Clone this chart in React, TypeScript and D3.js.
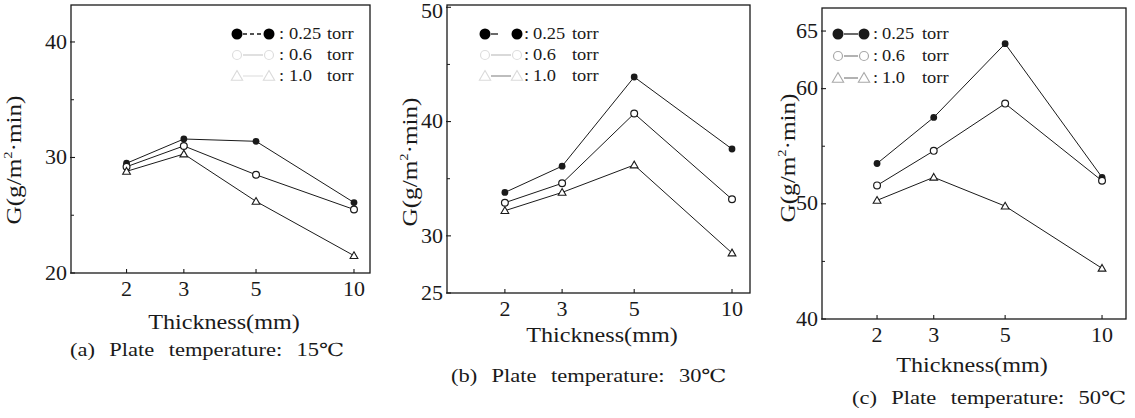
import React from "react";
import * as d3 from "d3";

// ---------- data ----------
const thickness = [2, 3, 5, 10];
const xTickValues = [2, 3, 5, 10];
const pressureLabels = ["0.25", "0.6", "1.0"];

const a025 = [29.5, 31.6, 31.4, 26.1];
const a06 = [29.2, 31.0, 28.5, 25.5];
const a10 = [28.8, 30.3, 26.2, 21.5];

const b025 = [33.8, 36.1, 43.9, 37.6];
const b06 = [32.9, 34.6, 40.7, 33.2];
const b10 = [32.2, 33.8, 36.2, 28.5];

const c025 = [53.5, 57.5, 63.9, 52.3];
const c06 = [51.6, 54.6, 58.7, 52.0];
const c10 = [50.3, 52.3, 49.8, 44.4];

const aTicks = [20, 30, 40];
const aMinor = [25, 35];
const bTicks = [25, 30, 40, 50];
const bMinor = [35, 45];
const cTicks = [40, 50, 60, 65];
const cMinor = [45, 55];

const captions = [
  "(a) Plate temperature: 15℃",
  "(b) Plate temperature: 30℃",
  "(c) Plate temperature: 50℃",
];
const xTitle = "Thickness(mm)";

const FONT = "Liberation Serif, Times New Roman, DejaVu Serif, serif";
const INK = "#1a1a1a";

type Layout = {
  left: number; right: number; top: number; bottom: number;
  yDom: [number, number]; xDom: [number, number];
  yLabelX: number; yLabelY: number;
  tickLabelY: number; titleX: number; titleY: number;
  capX: number; capY: number;
  leg: { m1: number; m2: number; colon: number; num: number; torr: number; rows: number[] };
  legStyle: "a" | "b" | "c";
};

const layouts: Layout[] = [
  {
    left: 71, right: 370, top: 5, bottom: 273, yDom: [20, 43.2], xDom: [1.35, 11.2],
    yLabelX: 14, yLabelY: 160, tickLabelY: 289, titleX: 224, titleY: 322,
    capX: 70, capY: 350,
    leg: { m1: 237, m2: 269, colon: 279, num: 289, torr: 327, rows: [34, 55, 76] },
    legStyle: "a",
  },
  {
    left: 447, right: 750, top: 5, bottom: 293, yDom: [25, 50.2], xDom: [1.327, 11.36],
    yLabelX: 410, yLabelY: 162, tickLabelY: 309, titleX: 602, titleY: 335,
    capX: 451, capY: 376,
    leg: { m1: 485, m2: 517, colon: 524, num: 533, torr: 572, rows: [34, 55, 76] },
    legStyle: "b",
  },
  {
    left: 822, right: 1126, top: 8, bottom: 319, yDom: [40, 67], xDom: [1.349, 11.87],
    yLabelX: 788, yLabelY: 158, tickLabelY: 335, titleX: 972, titleY: 365,
    capX: 852, capY: 398,
    leg: { m1: 838, m2: 864, colon: 873, num: 882, torr: 922, rows: [34, 56, 78] },
    legStyle: "c",
  },
];

const panelSeries = [
  [a025, a06, a10],
  [b025, b06, b10],
  [c025, c06, c10],
];
const panelTicks = [aTicks, bTicks, cTicks];
const panelMinor = [aMinor, bMinor, cMinor];

function T(props: {
  x: number; y: number; sx?: number; size: number; anchor?: string; rotate?: number;
  fill?: string; wordSpacing?: number; children: React.ReactNode;
}) {
  const { x, y, sx = 1, size, anchor = "start", rotate = 0, fill = INK, wordSpacing, children } = props;
  return (
    <text
      transform={`translate(${x},${y}) rotate(${rotate}) scale(${sx},1)`}
      textAnchor={anchor as any}
      dominantBaseline="central"
      style={{ fontFamily: FONT, fontSize: size, fontWeight: 400, wordSpacing: wordSpacing }}
      fill={fill}
    >
      {children}
    </text>
  );
}

const triPath = (size: number) => d3.symbol().type(d3.symbolTriangle).size(size)() as string;

function Marker({ kind, cx, cy, big, color = INK }: { kind: number; cx: number; cy: number; big?: boolean; color?: string }) {
  if (kind === 0) return <circle cx={cx} cy={cy} r={big ? 5.5 : 3.4} fill={color} />;
  if (kind === 1)
    return <circle cx={cx} cy={cy} r={big ? 4.5 : 3.4} fill="#fff" stroke={color} strokeWidth={1.2} />;
  return (
    <path d={triPath(big ? 55 : 26)} transform={`translate(${cx},${cy + (big ? 1 : 0.6)})`} fill="#fff" stroke={color} strokeWidth={1.1} />
  );
}

function Panel({ idx }: { idx: number }) {
  const L = layouts[idx];
  const series = panelSeries[idx];
  const x = d3.scaleLog().domain(L.xDom).range([L.left, L.right]);
  const y = d3.scaleLinear().domain(L.yDom).range([L.bottom, L.top]);
  const line = d3
    .line<number>()
    .x((_, i) => x(thickness[i]))
    .y((d) => y(d));

  const legColors =
    L.legStyle === "c"
      ? [INK, "#a8a8a8", "#a8a8a8"]
      : ["#000", "#dedede", "#dadada"];
  const legLineColors =
    L.legStyle === "c" ? [INK, "#888", "#888"] : L.legStyle === "b" ? [INK, "#c4c4c4", "#999"] : [INK, "#cfcfcf", "#e4e4e4"];

  return (
    <g>
      <rect x={L.left} y={L.top} width={L.right - L.left} height={L.bottom - L.top} fill="none" stroke={INK} strokeWidth={1.3} />
      {panelTicks[idx].map((t) => (
        <g key={"yt" + t}>
          <line x1={L.left - 1} x2={L.left + 4} y1={y(t)} y2={y(t)} stroke={INK} strokeWidth={1.1} />
          <T x={L.left - 4} y={Math.max(y(t), 11)} size={20} sx={1.1} anchor="end">{t}</T>
        </g>
      ))}
      {panelMinor[idx].map((t) => (
        <line key={"ym" + t} x1={L.left} x2={L.left + 3} y1={y(t)} y2={y(t)} stroke={INK} strokeWidth={1} />
      ))}
      {xTickValues.map((t) => (
        <g key={"xt" + t}>
          <line x1={x(t)} x2={x(t)} y1={L.bottom} y2={L.bottom - 4} stroke={INK} strokeWidth={1.1} />
          <T x={x(t)} y={L.tickLabelY} size={20} sx={1.1} anchor="middle">{t}</T>
        </g>
      ))}
      {series.map((s, si) => (
        <g key={"s" + si}>
          <path d={line(s) as string} fill="none" stroke={INK} strokeWidth={1} />
          {s.map((v, i) => (
            <Marker key={i} kind={si} cx={x(thickness[i])} cy={y(v)} />
          ))}
        </g>
      ))}
      {pressureLabels.map((p, ri) => {
        const ry = L.leg.rows[ri];
        const dashed = L.legStyle === "a" && ri === 0;
        return (
          <g key={"lg" + ri}>
            <line
              x1={L.leg.m1 + 6}
              x2={L.leg.m2 - 6}
              y1={ry}
              y2={ry}
              stroke={legLineColors[ri]}
              strokeWidth={1.3}
              strokeDasharray={dashed ? "4,3" : L.legStyle === "b" && ri === 0 ? "7,20" : undefined}
            />
            <Marker kind={ri} cx={L.leg.m1} cy={ry} big color={legColors[ri]} />
            <Marker kind={ri} cx={L.leg.m2} cy={ry} big color={legColors[ri]} />
            <T x={L.leg.colon} y={ry} size={16} sx={1.15}>:</T>
            <T x={L.leg.num} y={ry} size={16} sx={1.15}>{p}</T>
            <T x={L.leg.torr} y={ry} size={16} sx={1.15}>torr</T>
          </g>
        );
      })}
      <g transform={`translate(${L.yLabelX},${L.yLabelY}) rotate(-90) scale(1.2,1)`}>
        <text
          textAnchor="middle"
          dominantBaseline="central"
          style={{ fontFamily: FONT, fontSize: 21, fontWeight: 400 }}
          fill={INK}
        >
          G(g/m<tspan style={{ fontSize: 12 }} dy={-7}>2</tspan>
          <tspan dy={7}>·min)</tspan>
        </text>
      </g>
      <T x={L.titleX} y={L.titleY} size={21} sx={1.15} anchor="middle">{xTitle}</T>
      <T x={L.capX} y={L.capY} size={18} sx={1.25} wordSpacing={7}>{captions[idx]}</T>
    </g>
  );
}

export default function App() {
  return (
    <svg
      width={1135}
      height={418}
      viewBox="0 0 1135 418"
      style={{ position: "absolute", left: 0, top: 0, background: "#fff" }}
    >
      <rect width={1135} height={418} fill="#fff" />
      {layouts.map((_, i) => (
        <Panel key={i} idx={i} />
      ))}
    </svg>
  );
}
